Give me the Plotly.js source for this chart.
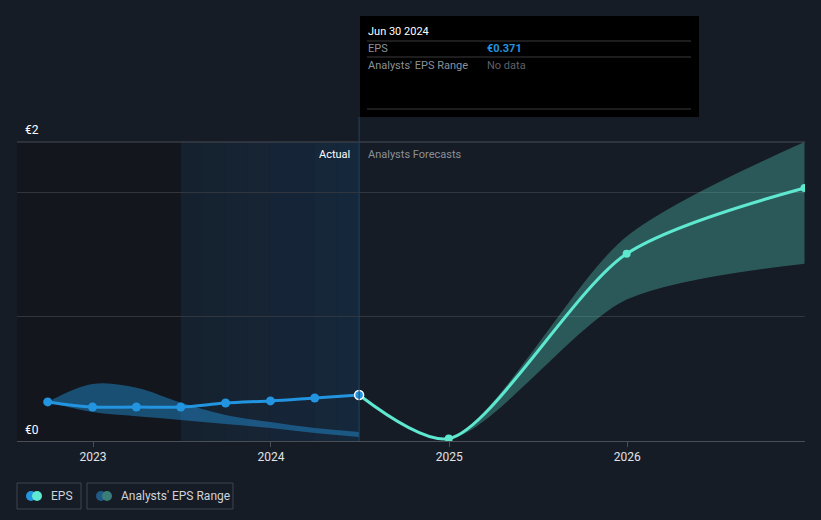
<!DOCTYPE html>
<html>
<head>
<meta charset="utf-8">
<script src="https://cdn.plot.ly/plotly-3.0.1.min.js"></script>
<style>
  html, body { margin: 0; padding: 0; background: #161c26; }
  #chart { width: 821px; height: 520px; }
</style>
</head>
<body>
<div id="chart"></div>
<script>
// quarterly EPS, actual
const quarters = ["2022-09-30", "2022-12-31", "2023-03-31", "2023-06-30", "2023-09-30", "2023-12-31", "2024-03-31", "2024-06-30"];
const epsActual = [0.315, 0.274, 0.274, 0.274, 0.306, 0.323, 0.347, 0.371];
const pastRangeHigh = [0.315, 0.46, 0.43, 0.31, 0.21, 0.153, 0.105, 0.073];
const pastRangeLow = [0.315, 0.234, 0.2, 0.17, 0.137, 0.105, 0.065, 0.032];

// analysts forecasts (range starts from last actual)
const forecastDates = ["2024-06-30", "2024-12-31", "2025-12-31", "2026-12-31"];
const epsForecast = [0.371, 0.02, 1.51, 2.04];
const rangeHigh = [0.371, 0.025, 1.65, 2.41];
const rangeLow = [0.371, 0.015, 1.14, 1.43];

const yearTicks = ["2023-01-01", "2024-01-01", "2025-01-01", "2026-01-01"];
const yearLabels = ["2023", "2024", "2025", "2026"];

const font = "Roboto, 'Open Sans', sans-serif";
const blue = "#2394df";
const teal = "#5ee8d0";

// pixel -> paper helpers (plot area 17..805 x 142..441)
const px = (x) => (x - 17) / 788;
const py = (y) => (441 - y) / 299;

const traces = [
  {
    x: quarters, y: pastRangeLow, type: "scatter", mode: "lines",
    line: { width: 0, shape: "spline", color: "rgba(0,0,0,0)" },
    hoverinfo: "skip", showlegend: false,
  },
  {
    x: quarters, y: pastRangeHigh, type: "scatter", mode: "lines",
    fill: "tonexty", fillcolor: "rgba(35,148,223,0.45)",
    line: { width: 0, shape: "spline", color: "rgba(0,0,0,0)" },
    hoverinfo: "skip", showlegend: false,
  },
  {
    x: forecastDates, y: rangeLow, type: "scatter", mode: "lines",
    line: { width: 0, shape: "spline", smoothing: 0.8, color: "rgba(0,0,0,0)" },
    hoverinfo: "skip", showlegend: false,
  },
  {
    x: forecastDates, y: rangeHigh, type: "scatter", mode: "lines",
    fill: "tonexty", fillcolor: "rgba(94,232,208,0.3)",
    line: { width: 0, shape: "spline", smoothing: 0.8, color: "rgba(0,0,0,0)" },
    hoverinfo: "skip", showlegend: false,
  },
  {
    x: forecastDates.slice(1), y: epsForecast.slice(1), type: "scatter", mode: "markers",
    marker: { size: 8, color: teal },
    showlegend: false,
  },
  {
    x: forecastDates, y: epsForecast, type: "scatter", mode: "lines",
    line: { width: 3, shape: "spline", smoothing: 0.8, color: teal },
    showlegend: false,
  },
  {
    x: quarters, y: epsActual, type: "scatter", mode: "lines+markers",
    line: { width: 3, shape: "spline", color: blue },
    marker: {
      size: 9,
      color: blue,
      line: { width: quarters.map((d, i) => (i === quarters.length - 1 ? 1.5 : 0)), color: "#ffffff" },
    },
    showlegend: false,
  },
];

// background bands
const shapes = [
  {
    type: "rect", xref: "x", yref: "paper", layer: "below",
    x0: "2022-07-29", x1: "2023-06-30", y0: 0, y1: 1,
    fillcolor: "#13161d", line: { width: 0 },
  },
];
// "Actual" region, faked gradient
const steps = 8;
const t0 = new Date("2023-06-30").getTime();
const t1 = new Date("2024-06-30").getTime();
for (let i = 0; i < steps; i++) {
  const a = t0 + (t1 - t0) * i / steps;
  const b = t0 + (t1 - t0) * (i + 1) / steps;
  shapes.push({
    type: "rect", xref: "x", yref: "paper", layer: "below",
    x0: new Date(a).toISOString().slice(0, 10), x1: new Date(b).toISOString().slice(0, 10),
    y0: 0, y1: 1,
    fillcolor: `rgba(20,90,150,${0.09 + 0.1 * i / (steps - 1)})`, line: { width: 0 },
  });
}
shapes.push(
  // top line
  { type: "line", xref: "paper", yref: "paper", x0: 0, x1: 1, y0: 1, y1: 1, line: { color: "#464a52", width: 1 } },
  // today marker
  { type: "line", xref: "x", yref: "paper", x0: "2024-06-30", x1: "2024-06-30", y0: 0, y1: py(117), line: { color: "#1d4466", width: 1 } },
  // tooltip box
  { type: "rect", xref: "paper", yref: "paper", x0: px(360), x1: px(699), y0: py(117), y1: py(16), fillcolor: "#000000", line: { width: 0 } },
  { type: "line", xref: "paper", yref: "paper", x0: px(367), x1: px(691), y0: py(41), y1: py(41), line: { color: "#3a3a3a", width: 1 } },
  { type: "line", xref: "paper", yref: "paper", x0: px(367), x1: px(691), y0: py(57), y1: py(57), line: { color: "#3a3a3a", width: 1 } },
  { type: "line", xref: "paper", yref: "paper", x0: px(367), x1: px(691), y0: py(109), y1: py(109), line: { color: "#3a3a3a", width: 1 } },
  // legend boxes
  { type: "rect", xref: "paper", yref: "paper", x0: px(17), x1: px(81), y0: py(509), y1: py(483), line: { color: "#3e434c", width: 1 } },
  { type: "rect", xref: "paper", yref: "paper", x0: px(87), x1: px(233), y0: py(509), y1: py(483), line: { color: "#3e434c", width: 1 } },
  { type: "circle", xref: "paper", yref: "paper", x0: px(26), x1: px(36), y0: py(501), y1: py(491), fillcolor: blue, line: { width: 0 } },
  { type: "circle", xref: "paper", yref: "paper", x0: px(32), x1: px(42), y0: py(501), y1: py(491), fillcolor: teal, line: { width: 0 } },
  { type: "circle", xref: "paper", yref: "paper", x0: px(96), x1: px(106), y0: py(501), y1: py(491), fillcolor: "#1f5b86", line: { width: 0 } },
  { type: "circle", xref: "paper", yref: "paper", x0: px(102), x1: px(112), y0: py(501), y1: py(491), fillcolor: "#3b7d78", line: { width: 0 } }
);

const ann = (text, x, y, color, opts = {}) => Object.assign({
  text, xref: "paper", yref: "paper", x: px(x), y: py(y),
  xanchor: "left", yanchor: "middle", showarrow: false,
  font: { family: font, size: 11, color },
}, opts);

const annotations = [
  ann("€2", 23, 130, "#ffffff", { font: { family: font, size: 12, color: "#ffffff" } }),
  ann("€0", 23, 430, "#ffffff", { font: { family: font, size: 12, color: "#ffffff" } }),
  ann("Actual", 352, 154, "#ffffff", { xanchor: "right" }),
  ann("Analysts Forecasts", 366, 154, "#8b9098"),
  ann("Jun 30 2024", 366, 31, "#ffffff"),
  ann("EPS", 366, 48, "#8b9098"),
  ann("<b>€0.371</b>", 485, 48, blue),
  ann("Analysts' EPS Range", 366, 66, "#8b9098"),
  ann("No data", 485, 66, "#5c6068"),
  ann("EPS", 49, 496, "#d0d3d8", { font: { family: font, size: 12, color: "#d0d3d8" } }),
  ann("Analysts' EPS Range", 119, 496, "#d0d3d8", { font: { family: font, size: 12, color: "#d0d3d8" } }),
];

const layout = {
  width: 821,
  height: 520,
  margin: { l: 17, r: 16, t: 142, b: 79 },
  paper_bgcolor: "#161c26",
  plot_bgcolor: "#161c26",
  showlegend: false,
  hovermode: false,
  font: { family: font, color: "#d0d3d8" },
  xaxis: {
    type: "date",
    range: ["2022-07-29", "2027-01-01"],
    tickvals: yearTicks,
    ticktext: yearLabels,
    tickfont: { family: font, size: 12, color: "#e0e3e8" },
    ticks: "outside",
    ticklen: 5,
    tickcolor: "#4a4e55",
    showgrid: false,
    showline: true,
    linecolor: "#4a4e55",
    linewidth: 1,
    zeroline: false,
    fixedrange: true,
  },
  yaxis: {
    range: [0, 2.411],
    tickvals: [1, 2],
    showticklabels: false,
    showgrid: true,
    gridcolor: "#30353e",
    gridwidth: 1,
    zeroline: false,
    showline: false,
    fixedrange: true,
  },
  shapes,
  annotations,
};

Plotly.newPlot("chart", traces, layout, { displayModeBar: false, staticPlot: true });
</script>
</body>
</html>
